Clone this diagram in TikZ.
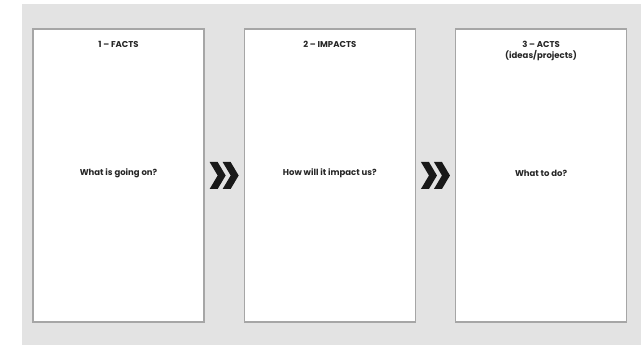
\documentclass[tikz,border=0pt]{standalone}
\usepackage{fontspec}
\setmainfont{Poppins}
\usetikzlibrary{positioning}
\tikzset{x=1pt, y=1pt, node distance=39pt,
	panel/.style={draw=gray!70, line width=1.3pt, fill=white, minimum width=171pt, minimum height=293pt, inner sep=0pt},
	paneltext/.style={font=\bfseries\fontsize{8.5}{11}\selectfont, align=center, text=black!85, inner sep=0pt},
	chevron/.style={fill=black!90}}

\begin{document}
\begin{tikzpicture}
	\useasboundingbox (0,0) rectangle (641,345);
	\fill[gray!22] (22,0) rectangle (641,341);
	% the three panels
	\node[panel] (Facts) at (118.5,169.5) {};
	\node[panel, right=of Facts] (Impacts) {};
	\node[panel, right=of Impacts] (Acts) {};
	% titles
	\node[paneltext, below=13pt of Facts.north] (Facts title) {1 -- FACTS};
	\node[paneltext, below=13pt of Impacts.north] (Impacts title) {2 -- IMPACTS};
	\node[paneltext, below=13pt of Acts.north, anchor=north] (Acts title) {3 -- ACTS\\ (ideas/projects)};
	% questions
	\node[paneltext] (Facts text) at ([yshift=2.5pt]Facts.center) {What is going on?};
	\node[paneltext] (Impacts text) at ([yshift=2.5pt]Impacts.center) {How will it impact us?};
	\node[paneltext] (Acts text) at ([yshift=2.5pt]Acts.center) {What to do?};
	% chevrons between panels
	\coordinate[right=19.5pt of Facts.east] (Chev1);
	\coordinate[right=19.5pt of Impacts.east] (Chev2);
	\foreach \c in {Chev1, Chev2}
		\foreach \a in {-14.5, -1.5}
			\fill[chevron] ([xshift=\a]\c) ++(0,13.5) -- ++(8,0) -- ++(8,-13.5) -- ++(-8,-13.5) -- ++(-8,0) -- ++(8,13.5) -- cycle;
\end{tikzpicture}
\end{document}
